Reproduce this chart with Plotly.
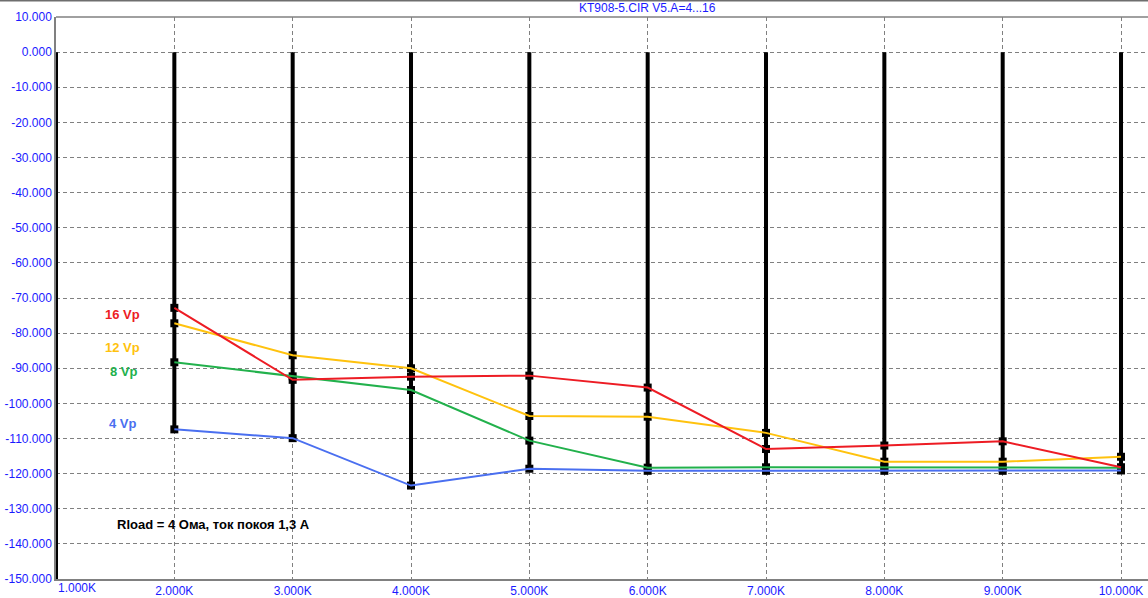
import plotly.graph_objects as go

# ---- data ----
freq_k = [2, 3, 4, 5, 6, 7, 8, 9, 10]
vp16 = [-72.8, -93.3, -92.4, -92.1, -95.5, -113.0, -112.0, -110.8, -118.2]
vp12 = [-77.2, -86.3, -90.0, -103.6, -103.8, -108.4, -116.6, -116.6, -115.2]
vp8 = [-88.3, -92.3, -96.2, -110.6, -118.3, -118.2, -118.2, -118.4, -118.3]
vp4 = [-107.4, -109.9, -123.4, -118.6, -119.2, -119.2, -119.2, -119.2, -119.1]
series_names = ["4 Vp", "8 Vp", "12 Vp", "16 Vp"]
series_vals = [vp4, vp8, vp12, vp16]
series_colors = ["#4a6ff0", "#22b14c", "#ffc20e", "#ed1c24"]
label_pos = [(1.57, -105.6), (1.575, -90.8), (1.56, -84.2), (1.56, -74.8)]

stem_1k_low = -150.0  # stem at 1K runs off the bottom of the scale
x_ticks = [1, 2, 3, 4, 5, 6, 7, 8, 9, 10]
x_tick_text = ["1.000K", "2.000K", "3.000K", "4.000K", "5.000K", "6.000K",
               "7.000K", "8.000K", "9.000K", "10.000K"]
y_ticks = [10, 0, -10, -20, -30, -40, -50, -60, -70, -80, -90, -100, -110,
           -120, -130, -140, -150]
y_tick_text = [f"{v:.3f}" for v in y_ticks]

title_text = "KT908-5.CIR V5.A=4...16"
note_text = "Rload = 4 Ома, ток покоя 1,3 А"

FONT = "Liberation Sans, Arial, sans-serif"
BLUE = "#1a1aff"

fig = go.Figure()

# black stems from 0 down to the lowest point at each frequency
sx, sy = [], []
sx += [1, 1, None]
sy += [0, stem_1k_low, None]
for i, f in enumerate(freq_k):
    low = min(s[i] for s in series_vals)
    sx += [f, f, None]
    sy += [0, low, None]
fig.add_trace(go.Scatter(x=sx, y=sy, mode="lines",
                         line=dict(color="black", width=4),
                         hoverinfo="skip", showlegend=False))

# black square markers
for vals in series_vals:
    fig.add_trace(go.Scatter(x=freq_k, y=vals, mode="markers",
                             marker=dict(symbol="square", size=8, color="black"),
                             showlegend=False, hoverinfo="skip"))

# coloured lines
for name, vals, col in zip(series_names, series_vals, series_colors):
    fig.add_trace(go.Scatter(x=freq_k, y=vals, mode="lines", name=name,
                             line=dict(color=col, width=2), showlegend=False))

annotations = []
for name, col, (lx, ly) in zip(series_names, series_colors, label_pos):
    annotations.append(dict(x=lx, y=ly, xref="x", yref="y", text=f"<b>{name}</b>",
                            showarrow=False, font=dict(family=FONT, size=13, color=col)))
annotations.append(dict(x=2.335, y=-134.6, xref="x", yref="y", text=f"<b>{note_text}</b>",
                        showarrow=False, font=dict(family=FONT, size=13, color="black")))
annotations.append(dict(x=x_ticks[0], y=0, xref="x", yref="paper", text=x_tick_text[0],
                        xanchor="left", yanchor="top", yshift=0, showarrow=False,
                        font=dict(family=FONT, size=12, color=BLUE)))
annotations.append(dict(x=(647 - 56) / (1148 - 56), y=1 + (17 - 8.5) / 562,
                        xref="paper", yref="paper", text=title_text, yanchor="middle",
                        showarrow=False, font=dict(family=FONT, size=12, color=BLUE)))

fig.update_layout(
    width=1148, height=598,
    margin=dict(l=56, r=0, t=17, b=19, pad=0),
    paper_bgcolor="white", plot_bgcolor="white",
    showlegend=False,
    annotations=annotations,
    xaxis=dict(range=[1, 10.228], tickvals=x_ticks[1:], ticktext=x_tick_text[1:],
               ticks="", showgrid=True, gridcolor="#808080", gridwidth=1,
               griddash="4px,3px", zeroline=False, showline=True,
               linecolor="#808080", linewidth=1.5,
               tickfont=dict(family=FONT, size=12, color=BLUE)),
    yaxis=dict(range=[-150, 10], tickvals=y_ticks, ticktext=y_tick_text,
               ticks="", showgrid=True, gridcolor="#808080", gridwidth=1,
               griddash="4px,3px", zeroline=False, showline=True,
               linecolor="#808080", linewidth=1.5,
               tickfont=dict(family=FONT, size=12, color=BLUE)),
)

# window top border and plot top border
fig.add_shape(type="line", xref="paper", yref="paper", x0=-0.1, x1=1.0,
              y0=1 + 16.5 / 562, y1=1 + 16.5 / 562,
              line=dict(color="#6e6e6e", width=2))
fig.add_shape(type="line", xref="paper", yref="paper", x0=0, x1=1,
              y0=1, y1=1, line=dict(color="#808080", width=1.5))

fig.write_html("out.html", config={"displayModeBar": False},
               post_script="document.body.style.margin='0';document.body.style.overflow='hidden';")
